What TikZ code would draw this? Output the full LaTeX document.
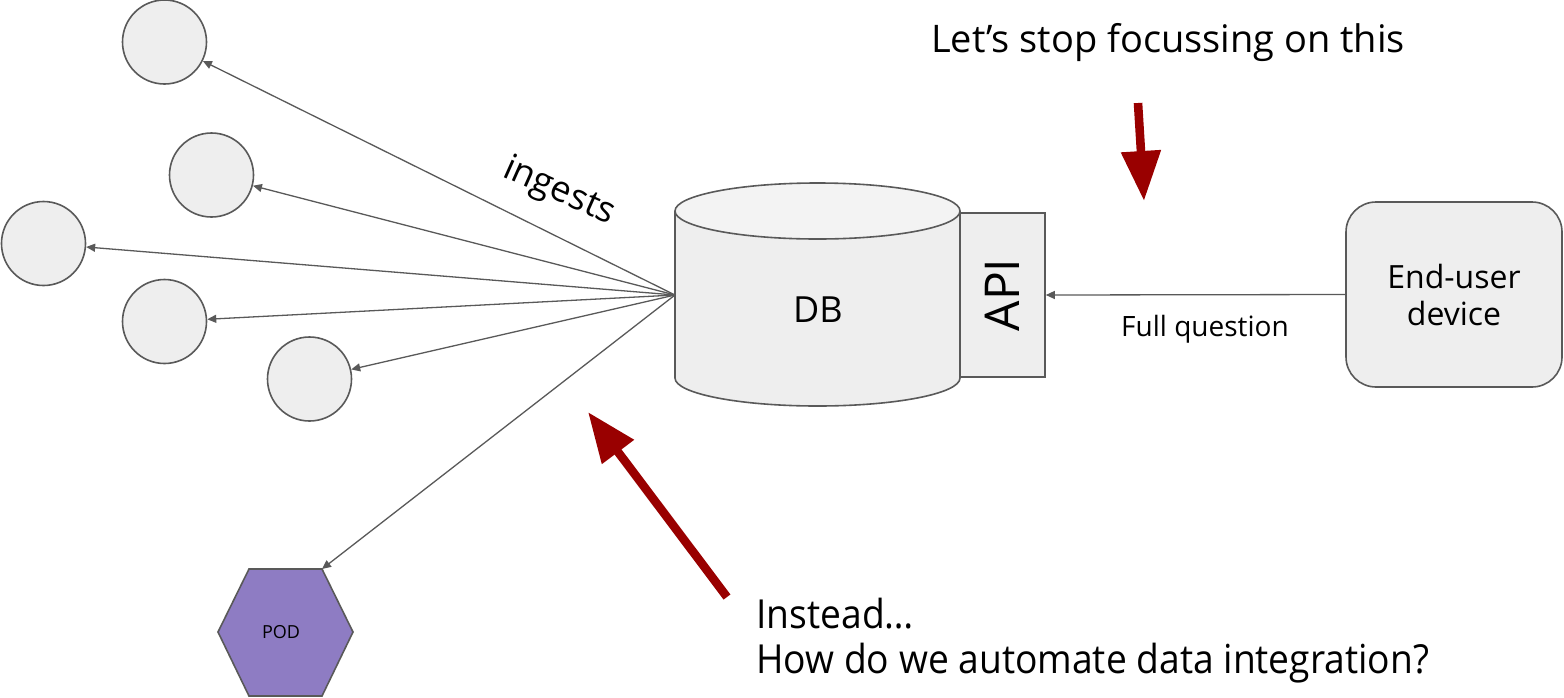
\documentclass[tikz,border=0pt]{standalone}
\usepackage{fontspec}
\setmainfont{Open Sans}
\newfontfamily\condfont{Open Sans}[FakeStretch=0.93]
\usetikzlibrary{arrows.meta}
\definecolor{edge}{HTML}{595959}
\definecolor{nodefill}{HTML}{EEEEEE}
\definecolor{topfill}{HTML}{F3F3F3}
\definecolor{darkred}{HTML}{990000}
\definecolor{podfill}{HTML}{8E7CC3}
\begin{document}
\begin{tikzpicture}[x=0.5pt,y=-0.5pt,
  circ/.style={circle,draw=edge,fill=nodefill,line width=0.8pt,minimum size=42pt,inner sep=0pt},
  conn/.style={draw=edge,line width=0.65pt,-{Triangle[length=4.5pt,width=4pt]}},
  bigarrow/.style={draw=darkred,line width=4.3pt,-{Triangle[length=25pt,width=19pt]}},
  shapeline/.style={draw=edge,line width=0.8pt},
  lbl/.style={text=black,inner sep=0pt}]
\useasboundingbox (0,0) rectangle (1564,697);
% cylinder DB
\filldraw[shapeline,fill=nodefill] (817.5,378) ellipse [x radius=142.5, y radius=28];
\fill[nodefill] (675,211) rectangle (960,378);
\draw[shapeline] (675,211) -- (675,378);
\draw[shapeline] (960,211) -- (960,378);
\filldraw[shapeline,fill=topfill] (817.5,211) ellipse [x radius=142.5, y radius=28];
\coordinate (hub) at (675,295);
\node[lbl,font=\fontsize{18}{22}\selectfont] (db) at (818,310) {DB};
% API
\node[shapeline,fill=nodefill,minimum width=42.5pt,minimum height=82pt,inner sep=0pt] (api) at (1002.5,295) {};
\node[lbl,rotate=90,font=\fontsize{24}{28}\selectfont] (apitext) at (api.center) {API};
% device
\node[shapeline,fill=nodefill,rounded corners=15pt,minimum width=108pt,minimum height=92.5pt,align=center,font=\fontsize{16}{18.5}\selectfont] (dev) at (1454,294.5) {End-user\\device};
\draw[conn] (dev.west) -- (api.east);
\node[lbl,font=\fontsize{14}{17}\selectfont] (fq) at (1205,329) {Full question};
% circles
\node[circ] (c1) at (164.5,42) {};
\node[circ] (c2) at (211.5,175) {};
\node[circ] (c3) at (43.5,243.5) {};
\node[circ] (c4) at (164.5,321.5) {};
\node[circ] (c5) at (309.5,379) {};
% pod
\filldraw[shapeline,fill=podfill] (218,632) -- (249,569) -- (322,569) -- (353,632) -- (322,696) -- (249,696) -- cycle;
\coordinate (podtr) at (322,569);
\node[lbl,font=\fontsize{9}{11}\selectfont] (pod) at (281,632) {POD};
% connectors
\draw[conn] (hub) -- (c1);
\draw[conn] (hub) -- (c2);
\draw[conn] (hub) -- (c3);
\draw[conn] (hub) -- (c4);
\draw[conn] (hub) -- (c5);
\draw[conn] (hub) -- (podtr);
\node[lbl,rotate=-24,font=\fontsize{18}{21}\selectfont] (ing) at (559,192) {ingests};
% red arrows
\coordinate (r1s) at (1138,103);
\coordinate (r1e) at (1144,201);
\draw[bigarrow] (r1s) -- (r1e);
\coordinate (r2s) at (727,597);
\coordinate (r2e) at (588,412);
\draw[bigarrow] (r2s) -- (r2e);
% texts
\node[lbl,font=\fontsize{19}{23}\selectfont] (t1) at (1168,43) {Let’s stop focussing on this};
\node[lbl,anchor=north west,align=left,font=\condfont\fontsize{20}{22.5}\selectfont] (q) at (756,598) {Instead…\\How do we automate data integration?};
\end{tikzpicture}
\end{document}
